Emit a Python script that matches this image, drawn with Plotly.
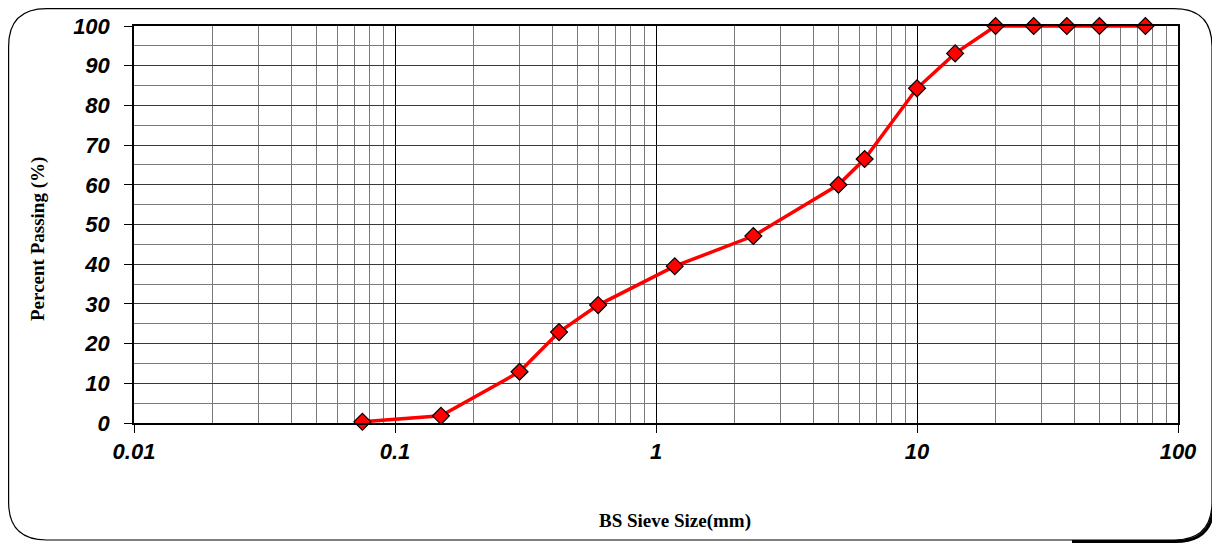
import plotly.graph_objects as go

sieve_mm = [0.075, 0.15, 0.3, 0.425, 0.6, 1.18, 2.36, 5.0, 6.3, 10.0, 14.0, 20.0, 28.0, 37.5, 50.0, 75.0]
passing = [0.3, 1.8, 12.9, 22.9, 29.7, 39.5, 47.1, 60.0, 66.5, 84.3, 93.1, 100, 100, 100, 100, 100]

x_ticks = [0.01, 0.1, 1, 10, 100]
x_labels = ["0.01", "0.1", "1", "10", "100"]
y_ticks = list(range(0, 101, 10))

# page body has an 8px margin: figure occupies page pixels 8..1220, 8..544
OFF = 8
W, H = 1220 - OFF, 544 - OFF
L, R, T, B = 134 - OFF, 1220 - 1178, 26 - OFF, 544 - 423
pw, ph = W - L - R, H - T - B

minor_x = [m * d for d in [0.01, 0.1, 1, 10] for m in range(2, 10)]

fig = go.Figure()
fig.add_trace(go.Scatter(
    x=sieve_mm, y=passing, mode="lines+markers",
    line=dict(color="#ff0000", width=3.5),
    marker=dict(symbol="diamond", size=13, color="#ff0000",
                line=dict(color="#000000", width=1.2)),
    showlegend=False, cliponaxis=False,
))

tickfont = dict(family="Liberation Sans, Arial", size=22, color="#000000")
titlefont = dict(family="Liberation Serif, Times New Roman", size=19, color="#000000")

fig.update_layout(
    width=W, height=H,
    margin=dict(l=L, r=R, t=T, b=B, autoexpand=False),
    paper_bgcolor="#ffffff", plot_bgcolor="#ffffff",
    xaxis=dict(
        type="log", range=[-2, 2],
        tickvals=x_ticks, ticktext=["<b><i>%s</i></b>" % s for s in x_labels],
        tickfont=tickfont,
        ticks="outside", ticklen=8, tickcolor="#000000", tickwidth=1,
        ticklabelstandoff=0,
        showgrid=True, gridcolor="#000000", gridwidth=1,
        minor=dict(tickvals=minor_x, showgrid=True, gridcolor="#7a7a7a", gridwidth=1, ticks=""),
        showline=True, linecolor="#000000", linewidth=1.5, mirror=True,
        zeroline=False, automargin=False,
    ),
    yaxis=dict(
        range=[0, 100], tickvals=y_ticks,
        ticktext=["<b><i>%d</i></b>" % v for v in y_ticks],
        tickfont=tickfont,
        ticks="outside", ticklen=8, tickcolor="#000000", tickwidth=1,
        ticklabelstandoff=10,
        showgrid=True, gridcolor="#3a3a3a", gridwidth=1,
        minor=dict(dtick=5, showgrid=True, gridcolor="#7a7a7a", gridwidth=1, ticks=""),
        showline=True, linecolor="#000000", linewidth=1.5, mirror=True,
        zeroline=False, automargin=False,
    ),
)

def px(xp):
    return (xp - OFF - L) / pw
def py(yp):
    return 1 - (yp - OFF - T) / ph

fig.add_annotation(text="<b>BS Sieve Size(mm)</b>", x=px(675), y=py(521),
                   xref="paper", yref="paper", showarrow=False, font=titlefont,
                   xanchor="center", yanchor="middle")
fig.add_annotation(text="<b>Percent Passing (%)</b>", x=px(38), y=py(239),
                   xref="paper", yref="paper", showarrow=False, font=titlefont,
                   textangle=-90, xanchor="center", yanchor="middle")

# rounded outer frame
x0, y0, x1, y1, r = 8.6, 8.6, 1212, 540, 38
path = (f"M {px(x0+r)},{py(y0)} L {px(x1-r)},{py(y0)} "
        f"Q {px(x1)},{py(y0)} {px(x1)},{py(y0+r)} "
        f"L {px(x1)},{py(y1-r)} Q {px(x1)},{py(y1)} {px(x1-r)},{py(y1)} "
        f"L {px(x0+r)},{py(y1)} Q {px(x0)},{py(y1)} {px(x0)},{py(y1-r)} "
        f"L {px(x0)},{py(y0+r)} Q {px(x0)},{py(y0)} {px(x0+r)},{py(y0)} Z")
sh = 1.5
spath = (f"M {px(x1+sh)},{py(y0+r)} L {px(x1+sh)},{py(y1-r+sh)} "
         f"Q {px(x1+sh)},{py(y1+sh)} {px(x1-r+sh)},{py(y1+sh)} L {px(x1-140)},{py(y1+sh)}")
fig.add_shape(type="path", path=spath, xref="paper", yref="paper",
              line=dict(color="#000000", width=3), layer="below")
fig.add_shape(type="path", path=path, xref="paper", yref="paper",
              line=dict(color="#000000", width=1.2), layer="below")

fig.write_html("out.html")
